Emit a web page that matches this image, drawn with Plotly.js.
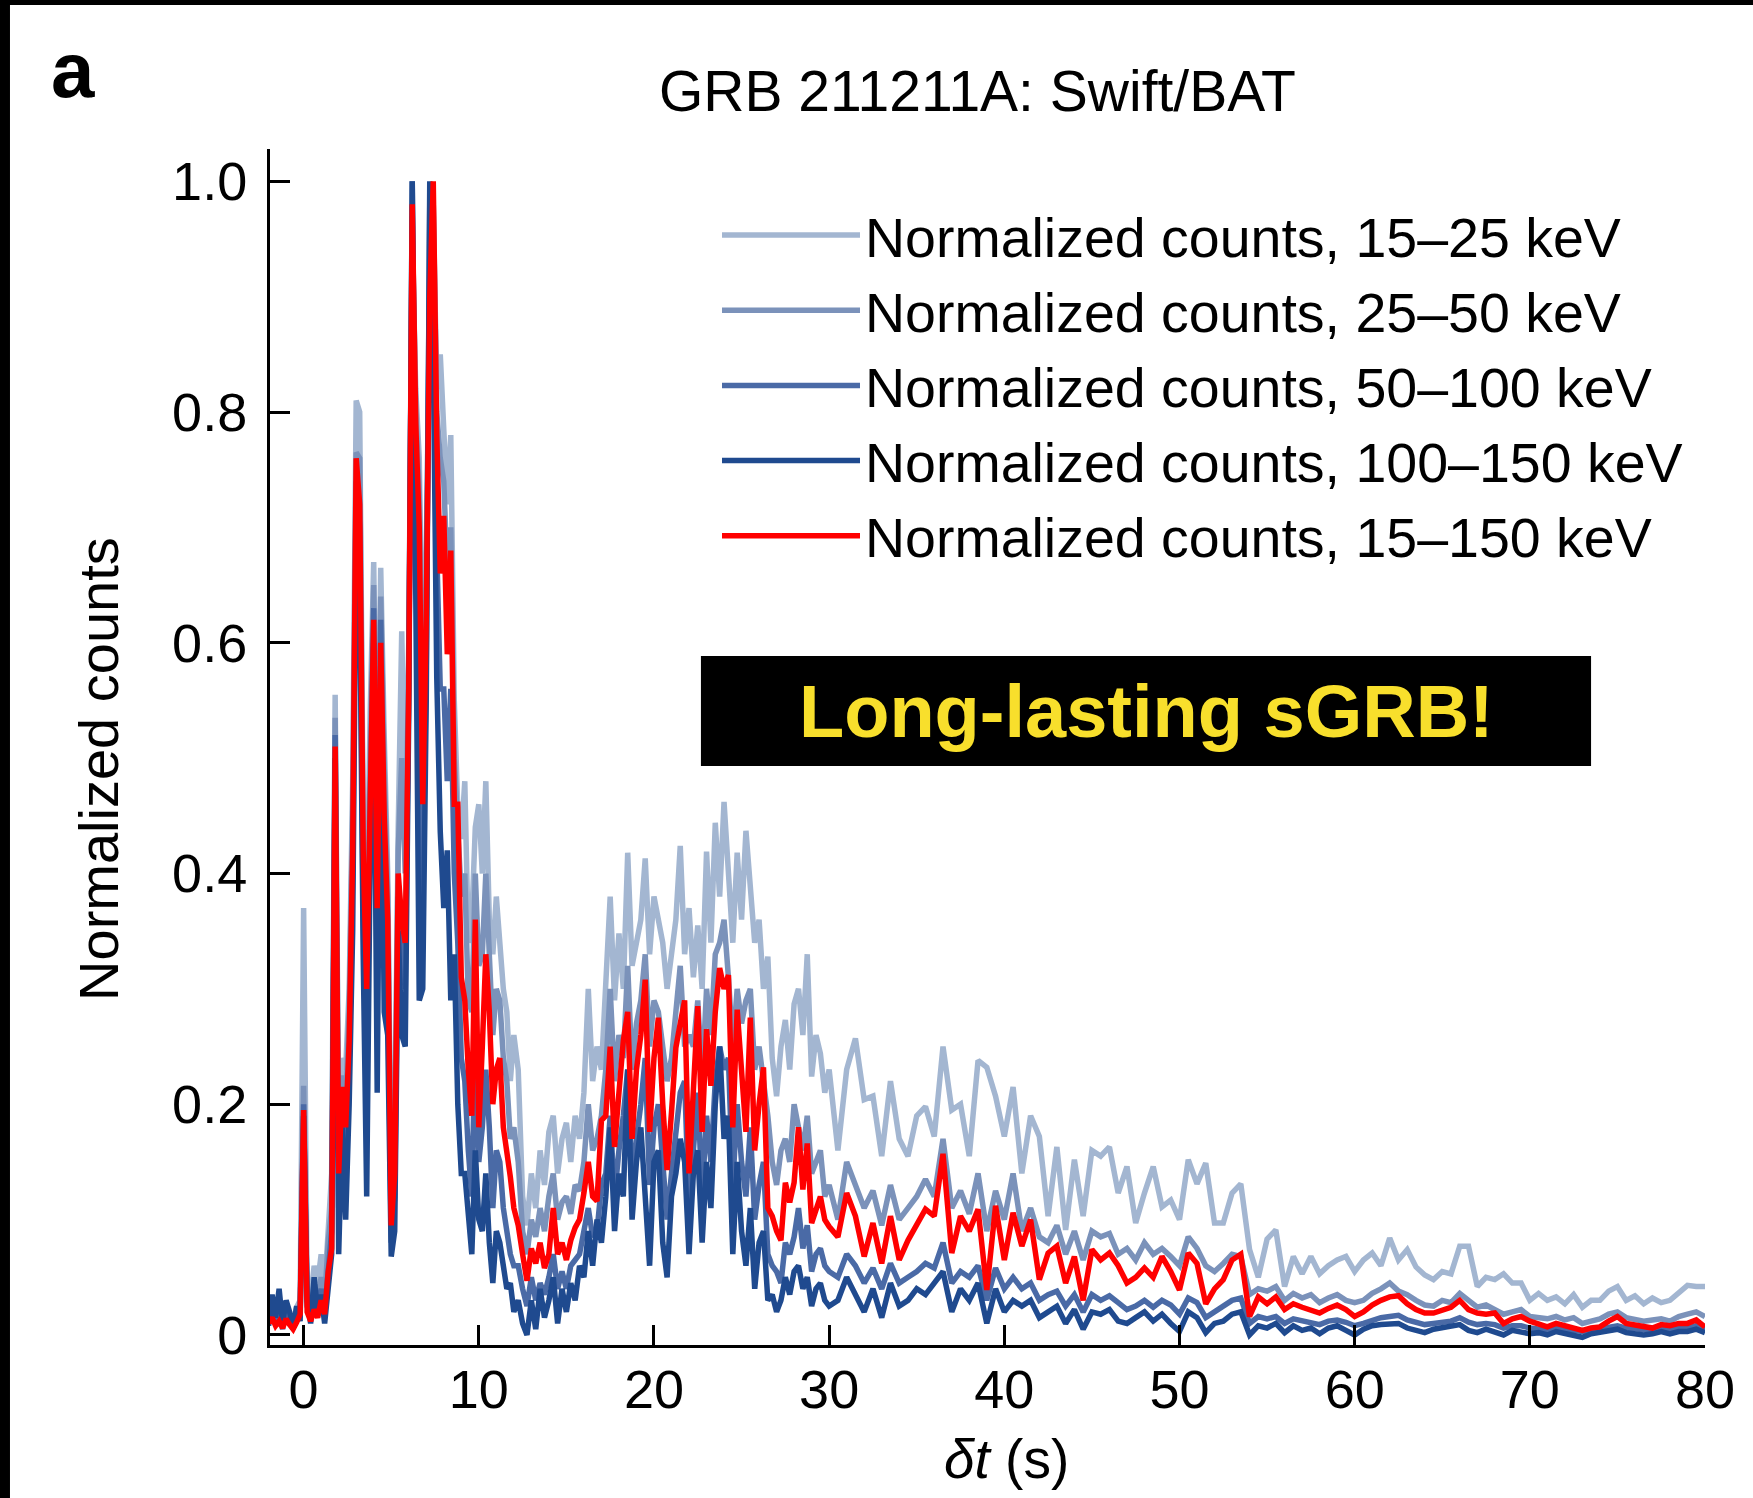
<!DOCTYPE html>
<html>
<head>
<meta charset="utf-8">
<script src="https://cdn.plot.ly/plotly-3.0.1.min.js"></script>
<style>html,body{margin:0;padding:0;background:#fff;}#chart{width:1753px;height:1498px;}</style>
</head>
<body>
<div id="chart"></div>
<script>
// ---- time bins (s): three segments of uniform binning ----
const segStart = [-2.0, 12.25, 30.5];
const segStep  = [0.2, 0.25, 0.5];
const segCount = [71, 72, 100];

// ---- series (normalized counts) ----
const counts15_25 = [
0.020,0.030,0.015,0.025,0.010,0.028,0.018,0.012,0.024,0.030,
0.370,0.040,0.030,0.060,0.045,0.070,0.040,0.100,0.140,0.555,
0.180,0.240,0.230,0.300,0.480,0.810,0.800,0.450,0.360,0.540,
0.670,0.420,0.665,0.520,0.400,0.130,0.180,0.440,0.610,0.450,
0.600,0.950,0.820,0.760,0.560,0.680,0.900,0.980,0.820,0.850,
0.780,0.720,0.780,0.550,0.456,0.430,0.480,0.340,0.360,0.440,
0.460,0.400,0.480,0.360,0.330,0.380,0.340,0.300,0.280,0.220,
0.260,
0.230,0.120,0.095,0.140,0.110,0.160,0.130,0.176,0.190,0.140,
0.170,0.184,0.150,0.190,0.170,0.210,0.300,0.220,0.250,0.230,
0.300,0.380,0.290,0.348,0.300,0.418,0.320,0.342,0.360,0.413,
0.330,0.380,0.360,0.340,0.300,0.330,0.360,0.424,0.330,0.370,
0.310,0.355,0.300,0.419,0.340,0.444,0.380,0.462,0.394,0.340,
0.418,0.360,0.437,0.380,0.340,0.360,0.300,0.328,0.240,0.207,
0.250,0.273,0.230,0.287,0.300,0.260,0.330,0.224,0.260,0.244,
0.210,0.230,
0.160,0.230,0.257,0.204,0.207,0.155,0.220,0.170,0.155,0.190,
0.198,0.172,0.250,0.195,0.200,0.155,0.238,0.232,0.207,0.172,
0.215,0.140,0.190,0.172,0.103,0.163,0.091,0.152,0.103,0.160,
0.155,0.163,0.123,0.146,0.097,0.123,0.146,0.111,0.117,0.100,
0.152,0.131,0.149,0.097,0.097,0.123,0.131,0.074,0.050,0.083,
0.091,0.042,0.068,0.053,0.068,0.053,0.060,0.065,0.068,0.055,
0.065,0.071,0.060,0.084,0.065,0.074,0.059,0.052,0.048,0.055,
0.053,0.077,0.077,0.042,0.050,0.048,0.053,0.045,0.045,0.030,
0.036,0.030,0.033,0.027,0.035,0.024,0.030,0.030,0.038,0.042,
0.030,0.034,0.027,0.032,0.028,0.030,0.036,0.043,0.042,0.042];

const counts25_50 = [
0.015,0.022,0.012,0.020,0.008,0.020,0.014,0.010,0.018,0.025,
0.216,0.030,0.020,0.045,0.030,0.050,0.030,0.080,0.110,0.535,
0.160,0.225,0.200,0.280,0.450,0.765,0.760,0.430,0.330,0.520,
0.650,0.400,0.640,0.490,0.380,0.110,0.160,0.420,0.500,0.400,
0.580,0.970,0.800,0.730,0.520,0.650,0.920,0.980,0.800,0.760,
0.740,0.660,0.700,0.500,0.440,0.380,0.400,0.290,0.280,0.400,
0.320,0.330,0.400,0.320,0.260,0.300,0.290,0.240,0.220,0.170,
0.180,
0.150,0.090,0.070,0.100,0.085,0.110,0.090,0.120,0.140,0.100,
0.115,0.120,0.105,0.130,0.125,0.150,0.200,0.160,0.170,0.190,
0.230,0.300,0.220,0.260,0.240,0.320,0.230,0.270,0.290,0.330,
0.250,0.290,0.280,0.250,0.220,0.240,0.280,0.320,0.250,0.260,
0.250,0.290,0.220,0.300,0.260,0.330,0.340,0.360,0.310,0.250,
0.300,0.270,0.290,0.300,0.230,0.250,0.220,0.190,0.150,0.130,
0.160,0.170,0.150,0.200,0.180,0.160,0.190,0.140,0.150,0.160,
0.120,0.130,
0.100,0.150,0.130,0.110,0.125,0.095,0.130,0.100,0.110,0.120,
0.135,0.120,0.170,0.110,0.125,0.105,0.140,0.090,0.125,0.100,
0.140,0.090,0.110,0.085,0.080,0.095,0.070,0.090,0.065,0.090,
0.085,0.088,0.070,0.075,0.065,0.080,0.070,0.075,0.068,0.060,
0.085,0.075,0.060,0.055,0.062,0.070,0.068,0.035,0.040,0.038,
0.042,0.030,0.036,0.032,0.035,0.028,0.032,0.035,0.030,0.028,
0.030,0.036,0.040,0.045,0.038,0.035,0.030,0.026,0.025,0.030,
0.028,0.036,0.030,0.024,0.026,0.022,0.018,0.020,0.022,0.016,
0.015,0.014,0.016,0.013,0.015,0.010,0.012,0.014,0.018,0.020,
0.015,0.014,0.012,0.013,0.014,0.012,0.016,0.018,0.020,0.016];

const counts50_100 = [
0.012,0.030,0.010,0.018,0.005,0.025,0.012,0.008,0.020,0.015,
0.200,0.025,0.015,0.040,0.025,0.040,0.020,0.060,0.090,0.520,
0.110,0.200,0.150,0.240,0.400,0.740,0.700,0.360,0.220,0.460,
0.630,0.300,0.620,0.420,0.320,0.080,0.120,0.380,0.330,0.300,
0.560,1.000,0.720,0.640,0.380,0.580,0.980,0.900,0.680,0.560,
0.560,0.480,0.560,0.400,0.340,0.240,0.220,0.160,0.120,0.260,
0.150,0.180,0.230,0.180,0.110,0.160,0.150,0.110,0.090,0.070,
0.060,
0.060,0.040,0.025,0.050,0.030,0.045,0.035,0.050,0.070,0.040,
0.055,0.040,0.060,0.065,0.070,0.090,0.110,0.085,0.090,0.130,
0.140,0.190,0.120,0.160,0.190,0.230,0.130,0.170,0.200,0.240,
0.130,0.180,0.200,0.150,0.100,0.140,0.180,0.210,0.220,0.110,
0.160,0.210,0.120,0.190,0.150,0.220,0.250,0.230,0.240,0.130,
0.200,0.150,0.120,0.180,0.100,0.130,0.150,0.070,0.060,0.055,
0.045,0.080,0.070,0.085,0.110,0.075,0.095,0.055,0.070,0.075,
0.060,0.055,
0.050,0.070,0.060,0.045,0.058,0.040,0.062,0.045,0.050,0.055,
0.062,0.058,0.080,0.045,0.055,0.050,0.060,0.030,0.058,0.040,
0.050,0.040,0.045,0.030,0.035,0.038,0.025,0.035,0.020,0.035,
0.030,0.034,0.028,0.022,0.025,0.030,0.024,0.030,0.026,0.018,
0.032,0.028,0.015,0.020,0.024,0.030,0.032,0.010,0.016,0.014,
0.016,0.010,0.014,0.012,0.011,0.009,0.012,0.013,0.011,0.008,
0.010,0.013,0.015,0.016,0.017,0.013,0.011,0.009,0.010,0.011,
0.012,0.015,0.011,0.009,0.010,0.009,0.006,0.008,0.008,0.006,
0.005,0.004,0.006,0.005,0.004,0.003,0.004,0.005,0.007,0.008,
0.006,0.005,0.004,0.004,0.006,0.005,0.006,0.006,0.008,0.005];

const counts100_150 = [
0.008,0.035,0.015,0.040,0.010,0.030,0.020,0.005,0.025,0.012,
0.190,0.030,0.010,0.050,0.020,0.035,0.010,0.040,0.070,0.500,
0.070,0.180,0.100,0.200,0.350,0.700,0.650,0.330,0.120,0.420,
0.600,0.210,0.580,0.280,0.260,0.068,0.090,0.350,0.260,0.250,
0.540,1.000,0.620,0.290,0.300,0.550,1.000,0.850,0.570,0.436,
0.370,0.420,0.290,0.330,0.200,0.140,0.140,0.100,0.070,0.160,
0.100,0.090,0.140,0.080,0.045,0.090,0.080,0.060,0.040,0.045,
0.020,
0.030,0.010,0.000,0.030,0.005,0.040,0.015,0.030,0.050,0.010,
0.040,0.020,0.045,0.030,0.060,0.050,0.090,0.060,0.100,0.080,
0.120,0.180,0.090,0.140,0.120,0.230,0.100,0.150,0.180,0.120,
0.060,0.150,0.160,0.080,0.050,0.120,0.140,0.170,0.150,0.070,
0.140,0.160,0.080,0.150,0.110,0.200,0.250,0.170,0.190,0.070,
0.150,0.090,0.060,0.110,0.040,0.080,0.090,0.030,0.035,0.020,
0.030,0.050,0.035,0.055,0.060,0.040,0.050,0.025,0.040,0.045,
0.030,0.025,
0.030,0.050,0.035,0.020,0.040,0.015,0.045,0.025,0.030,0.040,
0.035,0.045,0.055,0.020,0.040,0.030,0.045,0.010,0.040,0.020,
0.030,0.025,0.030,0.015,0.020,0.025,0.010,0.022,0.005,0.020,
0.018,0.022,0.012,0.010,0.015,0.020,0.012,0.018,0.010,0.003,
0.020,0.015,0.002,0.010,0.012,0.018,0.020,0.000,0.008,0.006,
0.010,0.002,0.008,0.004,0.006,0.001,0.006,0.008,0.004,0.000,
0.005,0.008,0.009,0.010,0.010,0.006,0.004,0.002,0.005,0.006,
0.007,0.009,0.004,0.002,0.005,0.003,0.000,0.004,0.003,0.001,
0.002,0.000,0.003,0.001,0.000,-0.002,0.001,0.002,0.004,0.005,
0.002,0.001,0.000,0.001,0.003,0.001,0.003,0.003,0.005,0.002];

const counts15_150 = [
0.010,0.015,0.008,0.012,0.006,0.014,0.009,0.005,0.011,0.018,
0.195,0.020,0.012,0.022,0.015,0.030,0.018,0.055,0.075,0.510,
0.140,0.215,0.180,0.255,0.420,0.760,0.720,0.420,0.300,0.480,
0.620,0.370,0.600,0.450,0.360,0.095,0.140,0.400,0.360,0.340,
0.560,0.980,0.790,0.700,0.460,0.620,0.900,1.000,0.780,0.660,
0.710,0.590,0.680,0.460,0.460,0.310,0.290,0.230,0.190,0.360,
0.180,0.250,0.330,0.280,0.200,0.230,0.240,0.180,0.160,0.137,
0.110,
0.095,0.070,0.047,0.075,0.062,0.080,0.058,0.070,0.110,0.070,
0.080,0.065,0.082,0.093,0.100,0.123,0.150,0.120,0.116,0.186,
0.190,0.250,0.163,0.210,0.255,0.280,0.170,0.230,0.260,0.308,
0.176,0.240,0.275,0.200,0.143,0.193,0.249,0.270,0.290,0.140,
0.220,0.285,0.176,0.265,0.216,0.280,0.318,0.300,0.312,0.180,
0.282,0.220,0.176,0.275,0.160,0.200,0.232,0.110,0.103,0.090,
0.082,0.132,0.115,0.132,0.180,0.126,0.166,0.097,0.110,0.120,
0.100,0.094,
0.085,0.123,0.103,0.068,0.097,0.062,0.103,0.065,0.082,0.095,
0.109,0.103,0.157,0.071,0.103,0.090,0.109,0.039,0.112,0.065,
0.106,0.077,0.100,0.048,0.071,0.077,0.045,0.068,0.030,0.074,
0.065,0.071,0.060,0.045,0.050,0.058,0.050,0.068,0.055,0.039,
0.071,0.062,0.027,0.040,0.048,0.065,0.070,0.016,0.033,0.027,
0.033,0.022,0.027,0.024,0.022,0.019,0.023,0.026,0.022,0.016,
0.020,0.026,0.030,0.033,0.034,0.027,0.022,0.019,0.019,0.022,
0.024,0.030,0.022,0.019,0.018,0.019,0.010,0.014,0.016,0.012,
0.009,0.007,0.010,0.008,0.006,0.004,0.006,0.007,0.012,0.016,
0.010,0.009,0.008,0.006,0.009,0.008,0.010,0.010,0.013,0.007];

const seriesNames = [
  'Normalized counts, 15\u201325 keV',
  'Normalized counts, 25\u201350 keV',
  'Normalized counts, 50\u2013100 keV',
  'Normalized counts, 100\u2013150 keV',
  'Normalized counts, 15\u2013150 keV'
];
const seriesColors = ['#a3b6d1', '#7b92ba', '#4a6aa6', '#1f4a8f', '#ff0000'];
const xTickVals = [0, 10, 20, 30, 40, 50, 60, 70, 80];
const yTickVals = [0, 0.2, 0.4, 0.6, 0.8, 1.0];
const yTickText = ['0', '0.2', '0.4', '0.6', '0.8', '1.0'];

// build time axis
const t = [];
for (let s = 0; s < segStart.length; s++) {
  for (let i = 0; i < segCount[s]; i++) t.push(Math.round((segStart[s] + segStep[s] * i) * 1000) / 1000);
}

const allSeries = [counts15_25, counts25_50, counts50_100, counts100_150, counts15_150];
const traces = allSeries.map((ys, k) => ({
  type: 'scatter', mode: 'lines', x: t, y: ys, name: seriesNames[k],
  line: {color: seriesColors[k], width: 5.5}, hoverinfo: 'skip'
}));

const FONT = 'Liberation Sans, Arial, Helvetica, sans-serif';
const layout = {
  width: 1753, height: 1498,
  paper_bgcolor: '#ffffff', plot_bgcolor: '#ffffff',
  margin: {l: 270, r: 48, t: 149, b: 153, autoexpand: false},
  font: {family: FONT, color: '#000', size: 54},
  showlegend: true,
  legend: {
    x: 0.3115, y: 0.9636, xanchor: 'left', yanchor: 'top',
    bgcolor: 'rgba(0,0,0,0)', borderwidth: 0,
    font: {family: FONT, size: 55.5, color: '#000'},
    itemwidth: 138, tracegroupgap: 0
  },
  xaxis: {
    range: [-1.92, 80], tickvals: xTickVals, ticktext: xTickVals.map(String),
    ticks: 'inside', ticklen: 20, tickwidth: 3, tickcolor: '#000',
    showline: true, linewidth: 3, linecolor: '#000', mirror: false,
    showgrid: false, zeroline: false, automargin: false,
    tickfont: {family: FONT, size: 54, color: '#000'}, ticklabelstandoff: -5
  },
  yaxis: {
    range: [-0.0087, 1.028], tickvals: yTickVals, ticktext: yTickText,
    ticks: 'inside', ticklen: 20, tickwidth: 3, tickcolor: '#000',
    showline: true, linewidth: 3, linecolor: '#000', mirror: false,
    showgrid: false, zeroline: false, automargin: false,
    tickfont: {family: FONT, size: 54, color: '#000'}, ticklabelstandoff: 9
  },
  shapes: [
    {type: 'rect', xref: 'paper', yref: 'paper', x0: 0.3003, x1: 0.9206, y0: 0.4841, y1: 0.5761,
     fillcolor: '#000', line: {width: 0}, layer: 'above'},
    {type: 'rect', xref: 'paper', yref: 'paper', x0: -0.19, x1: -0.1812, y0: -0.13, y1: 1.13,
     fillcolor: '#000', line: {width: 0}, layer: 'above'},
    {type: 'rect', xref: 'paper', yref: 'paper', x0: -0.19, x1: 1.04, y0: 1.1204, y1: 1.13,
     fillcolor: '#000', line: {width: 0}, layer: 'above'}
  ],
  annotations: [
    {text: 'GRB 211211A: Swift/BAT', xref: 'paper', yref: 'paper', x: 0.4927, y: 1.0485,
     xanchor: 'center', yanchor: 'middle', showarrow: false, font: {family: FONT, size: 57, color: '#000'}},
    {text: '<b>a</b>', xref: 'paper', yref: 'paper', x: -0.137, y: 1.066,
     xanchor: 'center', yanchor: 'middle', showarrow: false, font: {family: FONT, size: 78, color: '#000'}},
    {text: 'Normalized counts', xref: 'paper', yref: 'paper', x: -0.1199, y: 0.4816, textangle: -90,
     xanchor: 'center', yanchor: 'middle', showarrow: false, font: {family: FONT, size: 56, color: '#000'}},
    {text: '<i>\u03b4t</i> (s)', xref: 'paper', yref: 'paper', x: 0.5129, y: -0.0953,
     xanchor: 'center', yanchor: 'middle', showarrow: false, font: {family: FONT, size: 55, color: '#000'}},
    {text: '<b>Long-lasting sGRB!</b>', xref: 'paper', yref: 'paper', x: 0.6105, y: 0.5293,
     xanchor: 'center', yanchor: 'middle', showarrow: false, font: {family: FONT, size: 74, color: '#f8df2c'}}
  ]
};

Plotly.newPlot('chart', traces, layout, {displayModeBar: false, staticPlot: true});
</script>
</body>
</html>
